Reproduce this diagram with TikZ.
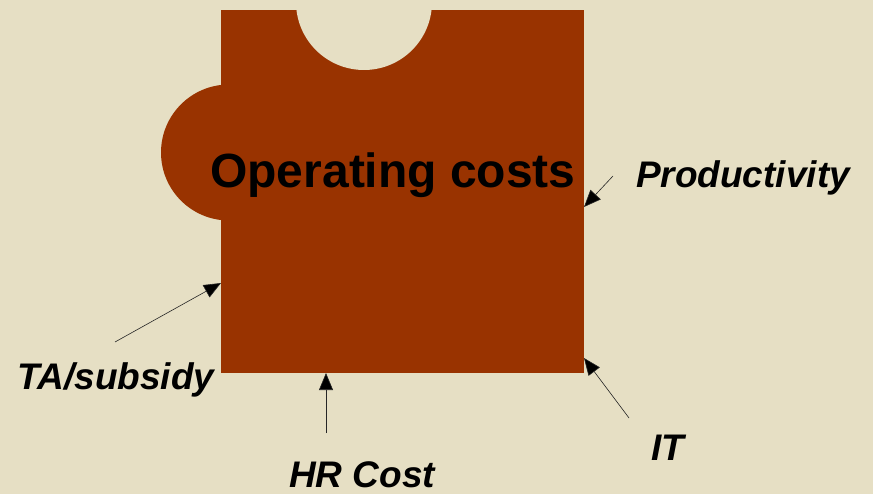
\documentclass[tikz,border=0pt]{standalone}
\usepackage{fontspec}
\setmainfont{Liberation Sans}
\usetikzlibrary{arrows.meta}
\definecolor{paper}{RGB}{230,223,196}
\definecolor{rust}{RGB}{153,51,0}
\begin{document}
\begin{tikzpicture}[x=1pt,y=-1pt,
  lbl/.style={font=\fontsize{37}{40}\selectfont\bfseries\itshape, anchor=base, inner sep=0pt},
  title/.style={font=\fontsize{48}{52}\selectfont\bfseries, anchor=base, inner sep=0pt},
  pointer/.style={-{Triangle[length=17pt,width=14pt,fill=black]}, line width=0.6pt, draw=black!85},
]
% background
\fill[paper] (0,0) rectangle (873,494);
\useasboundingbox (0,0) rectangle (873,494);

% puzzle piece: square body, tab on the left, socket on top
\begin{scope}
  \clip (0,0) rectangle (873,494);
  \fill[rust] (221,10) rectangle (584,373);
  \fill[rust] (229,152.5) circle[radius=68];
  \fill[paper] (364,2) circle[radius=68];
\end{scope}

\node[title] (piece) at (393,188) {Operating costs};

% labels
\node[lbl] (prod) at (743,188) {Productivity};
\node[lbl] (ta)   at (116,389) {TA/subsidy};
\node[lbl] (hr)   at (362,487) {HR Cost};
\node[lbl] (it)   at (668,460) {IT};

% arrow tails and tips on the piece
\coordinate (prodtail) at (613,176);
\coordinate (prodtip)  at (584,207);
\coordinate (tatail)   at (115,342);
\coordinate (tatip)    at (221,283);
\coordinate (hrtail)   at (326,433);
\coordinate (hrtip)    at (326,373);
\coordinate (ittail)   at (629,418);
\coordinate (ittip)    at (584,358);

\draw[pointer] (prodtail) -- (prodtip);
\draw[pointer] (tatail) -- (tatip);
\draw[pointer] (hrtail) -- (hrtip);
\draw[pointer] (ittail) -- (ittip);
\end{tikzpicture}
\end{document}
